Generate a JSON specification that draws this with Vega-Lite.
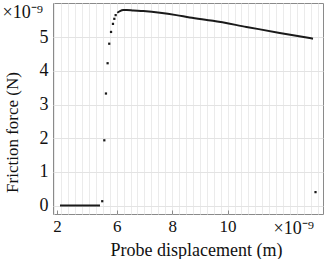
{
  "$schema": "https://vega.github.io/schema/vega-lite/v6.json",
  "width": 270,
  "height": 211,
  "autosize": {"type": "none"},
  "padding": {"left": 53, "top": 3, "right": 3, "bottom": 45},
  "background": "white",
  "config": {
    "view": {"stroke": "#8a8a8a", "strokeWidth": 1},
    "font": "Liberation Serif, Times New Roman, serif",
    "axis": {"labelFont": "Liberation Serif, Times New Roman, serif", "titleFont": "Liberation Serif, Times New Roman, serif", "labelColor": "#111", "titleColor": "#111", "titleFontWeight": "normal"}
  },
  "datasets": {
    "curve": [
      {"x": 2.2, "y": 0, "seg": "flat", "kind": "line"},
      {"x": 4.88, "y": 0, "seg": "flat", "kind": "line"},
      {"x": 5.03, "y": 0.13, "seg": "rise", "kind": "dot"},
      {"x": 5.17, "y": 1.94, "seg": "rise", "kind": "dot"},
      {"x": 5.28, "y": 3.33, "seg": "rise", "kind": "dot"},
      {"x": 5.39, "y": 4.23, "seg": "rise", "kind": "dot"},
      {"x": 5.5, "y": 4.81, "seg": "rise", "kind": "dot"},
      {"x": 5.62, "y": 5.16, "seg": "rise", "kind": "dot"},
      {"x": 5.75, "y": 5.4, "seg": "rise", "kind": "dot"},
      {"x": 5.84, "y": 5.55, "seg": "rise", "kind": "dot"},
      {"x": 5.93, "y": 5.66, "seg": "rise", "kind": "dot"},
      {"x": 6.02, "y": 5.73, "seg": "top", "kind": "line"},
      {"x": 6.12, "y": 5.78, "seg": "top", "kind": "line"},
      {"x": 6.24, "y": 5.81, "seg": "top", "kind": "line"},
      {"x": 6.36, "y": 5.815, "seg": "top", "kind": "line"},
      {"x": 6.6, "y": 5.8, "seg": "top", "kind": "line"},
      {"x": 6.96, "y": 5.78, "seg": "top", "kind": "line"},
      {"x": 7.56, "y": 5.73, "seg": "top", "kind": "line"},
      {"x": 8.15, "y": 5.66, "seg": "top", "kind": "line"},
      {"x": 8.63, "y": 5.59, "seg": "top", "kind": "line"},
      {"x": 9.47, "y": 5.49, "seg": "top", "kind": "line"},
      {"x": 10.68, "y": 5.31, "seg": "top", "kind": "line"},
      {"x": 11.88, "y": 5.13, "seg": "top", "kind": "line"},
      {"x": 13.08, "y": 4.96, "seg": "top", "kind": "line"},
      {"x": 13.17, "y": 0.4, "seg": "end", "kind": "dot"}
    ]
  },
  "resolve": {"axis": {"x": "independent", "y": "independent"}},
  "layer": [
    {
      "data": {"name": "curve"},
      "transform": [{"filter": "datum.kind === 'line'"}],
      "mark": {"type": "line", "color": "#1a1a1a", "strokeWidth": 2, "interpolate": "monotone"},
      "encoding": {
        "x": {
          "field": "x", "type": "quantitative",
          "scale": {"domain": [1.73, 6, 13.44], "range": [0, 63.7, 270], "nice": false, "zero": false},
          "axis": {
            "orient": "bottom",
            "title": "Probe displacement (m)",
            "titleFontSize": 18,
            "titleX": 143, "titleY": 41, "titleAlign": "center", "titleBaseline": "alphabetic", "titleAnchor": null,
            "values": [1.815, 2.28, 2.745, 3.21, 3.675, 4.14, 4.605, 5.07, 5.535, 6, 6.25, 6.5, 6.75, 7, 7.25, 7.5, 7.75, 8, 8.25, 8.5, 8.75, 9, 9.25, 9.5, 9.75, 10, 10.25, 10.5, 10.75, 11, 11.25, 11.5, 11.75, 12, 12.25, 12.5, 12.75, 13, 13.25],
            "labels": false,
            "ticks": false, "domain": false,
            "grid": true, "gridColor": "#ebebeb", "gridWidth": 1
          }
        },
        "y": {
          "field": "y", "type": "quantitative",
          "scale": {"domain": [-0.25, 6.02], "nice": false, "zero": false},
          "axis": {
            "orient": "left",
            "title": "Friction force (N)",
            "titleFontSize": 17,
            "titleX": -41, "titleY": 129, "titleAngle": -90, "titleAlign": "center", "titleBaseline": "middle", "titleAnchor": null,
            "values": [0, 1, 2, 3, 4, 5],
            "labelFontSize": 18, "labelPadding": 5,
            "ticks": false, "domain": false,
            "grid": true, "gridColor": "#e3e3e3"
          }
        },
        "detail": {"field": "seg"}
      }
    },
    {
      "data": {"name": "curve"},
      "transform": [{"filter": "datum.kind === 'dot'"}],
      "mark": {"type": "point", "shape": "square", "filled": true, "size": 5, "color": "#1a1a1a", "opacity": 1},
      "encoding": {
        "x": {
          "field": "x", "type": "quantitative",
          "axis": {
            "orient": "bottom",
            "title": "×10⁻⁹",
            "titleFontSize": 18,
            "titleX": 220, "titleY": 19, "titleAlign": "left", "titleBaseline": "alphabetic", "titleAngle": 0, "titleAnchor": null,
            "values": [2, 6, 8, 10],
            "format": "d",
            "labels": true,
            "labelFontSize": 17, "labelPadding": 8, "labelBaseline": "top",
            "labelOverlap": false, "labelFlush": false,
            "grid": false, "domain": false,
            "ticks": true, "tickSize": -4, "tickColor": "#8a8a8a"
          }
        },
        "y": {
          "field": "y", "type": "quantitative",
          "axis": {
            "orient": "left",
            "title": "×10⁻⁹",
            "titleFontSize": 18,
            "titleX": -51, "titleY": 14, "titleAlign": "left", "titleBaseline": "alphabetic", "titleAngle": 0, "titleAnchor": null,
            "labels": false, "grid": false, "domain": false, "ticks": false
          }
        }
      }
    }
  ]
}
